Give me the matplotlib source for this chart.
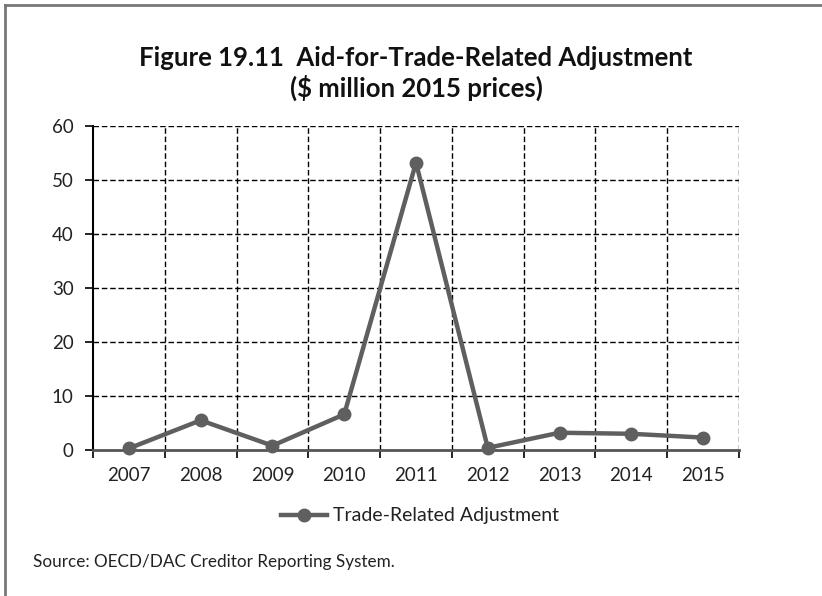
import matplotlib
matplotlib.use("Agg")
import matplotlib.pyplot as plt
from matplotlib.lines import Line2D

years = ["2007", "2008", "2009", "2010", "2011", "2012", "2013", "2014", "2015"]
values = [0.3, 5.5, 0.8, 6.6, 53.2, 0.4, 3.2, 3.0, 2.3]
series_name = "Trade-Related Adjustment"
yticks = [0, 10, 20, 30, 40, 50, 60]

plt.rcParams['font.family'] = ['Lato', 'DejaVu Sans']

W, H = 822, 596
fig = plt.figure(figsize=(W / 100, H / 100), dpi=100)

# outer frame (top and left)
fig.add_artist(Line2D([5 / W, 5 / W], [0, 1 - 5 / H], transform=fig.transFigure, color="#777777", lw=2))
fig.add_artist(Line2D([5 / W, 1], [1 - 5 / H, 1 - 5 / H], transform=fig.transFigure, color="#777777", lw=2))

fig.text(416 / W, 1 - 58 / H, "Figure 19.11  Aid-for-Trade-Related Adjustment",
         ha="center", va="center", fontsize=18.5, fontweight="bold", color="#111111")
fig.text(416 / W, 1 - 88 / H, "($ million 2015 prices)",
         ha="center", va="center", fontsize=18.5, fontweight="bold", color="#111111")

ax = fig.add_axes([93 / W, 1 - 450 / H, (739 - 93) / W, (450 - 126) / H])
x = list(range(len(years)))
line, = ax.plot(x, values, color="#5f5f5f", lw=3.2, marker="o", markersize=9,
                solid_joinstyle="round", zorder=5, clip_on=False)

ax.set_xlim(-0.5, len(years) - 0.5)
ax.set_ylim(0, 60)
ax.set_yticks(yticks)
ax.set_yticklabels([str(v) for v in yticks], fontsize=13.5, color="#222222")
ax.set_xticks(x)
ax.set_xticklabels(years, fontsize=13.5, color="#222222")

# grid
for v in yticks[1:]:
    ax.axhline(v, color="black", lw=1.0, ls=(0, (4, 2)), zorder=1)
for b in [i + 0.5 for i in x]:
    ax.axvline(b, color="black", lw=1.0, ls=(0, (4, 2)), zorder=1)

# boundary ticks on x axis
ax.set_xticks([i - 0.5 for i in range(len(years) + 1)], minor=True)
ax.tick_params(axis="x", which="major", length=0, pad=12)
ax.tick_params(axis="x", which="minor", length=6, width=1.2, color="black", direction="out")
ax.tick_params(axis="y", length=6, width=1.2, color="black", pad=8)

for s in ["top", "right"]:
    ax.spines[s].set_visible(False)
ax.spines["left"].set_color("black")
ax.spines["left"].set_linewidth(1.5)
ax.spines["bottom"].set_color("#555555")
ax.spines["bottom"].set_linewidth(2)
ax.spines["bottom"].set_zorder(4)

fig.legend([line], [series_name], loc="center", bbox_to_anchor=(420 / W, 1 - 516 / H),
           frameon=False, fontsize=14, handlelength=2.4, handletextpad=0.3,
           labelcolor="#222222")

fig.text(33 / W, 1 - 562 / H, "Source: OECD/DAC Creditor Reporting System.",
         ha="left", va="center", fontsize=12.3, color="#222222")

fig.savefig("out.png", dpi=100)
